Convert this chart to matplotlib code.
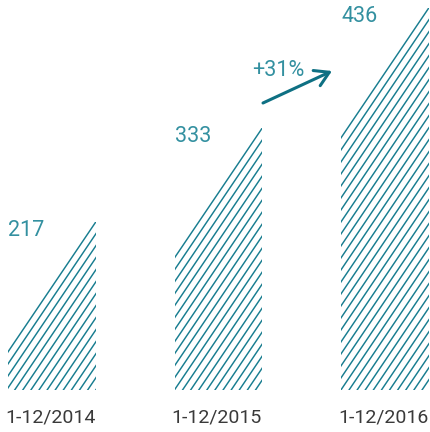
import matplotlib
matplotlib.use('Agg')
import matplotlib.pyplot as plt
from matplotlib.patches import Rectangle

# ---- data ----
categories = ['1-12/2014', '1-12/2015', '1-12/2016']
values = [217, 333, 436]
bar_heights = [168, 262, 382]   # drawn heights of the bars (as in the picture)
growth_label = '+31%'

plt.rcParams['font.family'] = ['Roboto', 'DejaVu Sans']

W, H = 431, 432
fig = plt.figure(figsize=(W / 100, H / 100), dpi=100)
base_px = 42
ax = fig.add_axes([0, base_px / H, 1, (H - base_px) / H])
step_px = 166.5
x0_px = 52
ax.set_xlim(-x0_px / step_px, (W - x0_px) / step_px)
ax.set_ylim(0, H - base_px)
ax.axis('off')

bar_w = 87.5 / step_px
slope = 1.48      # hatch slope (px/px)
dv = 12.0         # vertical spacing of hatch lines (px)
teal = '#187d90'
label_teal = '#3390a0'
arrow_teal = '#0e7083'

for i, (h, v) in enumerate(zip(bar_heights, values)):
    left = i - bar_w / 2
    right = i + bar_w / 2
    w_px = bar_w * step_px
    clip = Rectangle((left, 0), bar_w, h, transform=ax.transData)
    k = 0
    while h - k * dv > -dv:
        yr = h - k * dv
        run = w_px + 20
        xs = [right - run / step_px, right + 10 / step_px]
        ys = [yr - run * slope, yr + 10 * slope]
        ln, = ax.plot(xs, ys, color=teal, lw=1.05)
        ln.set_clip_path(clip)
        k += 1
    ax.text(left, h - 14, str(v), ha='left', va='baseline', fontsize=15.5,
            color=label_teal)
    ax.text(i - 0.01, -33, categories[i], ha='center', va='baseline',
            fontsize=14, color='#3a3a3a')

# growth annotation between bar 2 and bar 3
ax.text(1 + (251 - 217.5) / step_px, 314, growth_label, ha='left',
        va='baseline', fontsize=15.5, color=label_teal)
ax.annotate('', xy=(1 + (331 - 217.5) / step_px, 319),
            xytext=(1 + (262 - 217.5) / step_px, 287),
            arrowprops=dict(arrowstyle='->,head_length=0.5,head_width=0.3',
                            lw=2.2, color=arrow_teal, shrinkA=0, shrinkB=0,
                            mutation_scale=20))

fig.savefig('out.png', dpi=100)
